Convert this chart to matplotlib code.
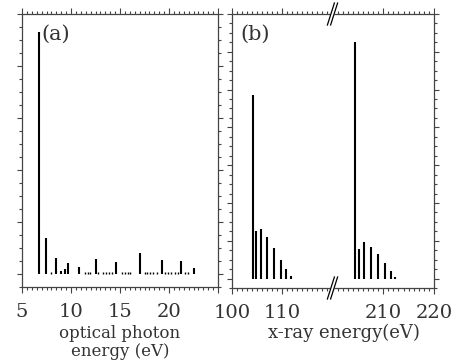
import matplotlib
matplotlib.use("Agg")
import matplotlib.pyplot as plt
from matplotlib.lines import Line2D
from matplotlib.ticker import MultipleLocator, FixedLocator

# (a) optical photon lines
opt_energy = [6.77, 7.42, 8.44, 8.95, 9.39, 9.72, 10.77, 12.5, 14.64, 17.09, 19.32, 21.22, 22.58]
opt_intensity = [4.65, 0.70, 0.30, 0.05, 0.10, 0.22, 0.13, 0.28, 0.24, 0.40, 0.27, 0.25, 0.12]
weak_energy = [7.95, 11.4, 11.7, 11.9, 12.8, 13.3, 13.6, 13.9, 14.2, 15.2, 15.5, 15.8, 16.0,
               17.5, 17.8, 18.1, 18.4, 18.8, 19.6, 19.9, 20.2, 20.6, 20.9, 21.6, 21.9]
weak_intensity = [0.04] * len(weak_energy)

# (b) x-ray lines, two groups
xray_low_energy = [104.1, 104.7, 105.7, 106.9, 108.4, 109.8, 110.8, 111.8]
xray_low_intensity = [4.85, 1.25, 1.30, 1.10, 0.81, 0.50, 0.26, 0.06]
xray_high_energy = [204.4, 205.2, 206.2, 207.5, 209.0, 210.4, 211.5, 212.4]
xray_high_intensity = [6.26, 0.77, 0.97, 0.84, 0.64, 0.40, 0.19, 0.04]

W, H = 461, 361
fig = plt.figure(figsize=(W / 100, H / 100), dpi=100)
plt.rcParams['font.family'] = ['DejaVu Serif']
txt = '#333333'
spine_c = '#444444'


def px_axes(l, r, t, b):
    return fig.add_axes([l / W, 1 - b / H, (r - l) / W, (b - t) / H])


def style(ax, left=True, right=True):
    for s in ax.spines.values():
        s.set_color(spine_c)
        s.set_linewidth(0.9)
    ax.spines['left'].set_visible(left)
    ax.spines['right'].set_visible(right)
    ax.tick_params(axis='both', which='both', direction='out', colors=spine_c,
                   labelcolor=txt, labelsize=14, top=True, bottom=True,
                   left=left, right=right, labelleft=False, pad=7)
    ax.tick_params(axis='x', which='major', length=4.5, width=0.8)
    ax.tick_params(axis='x', which='minor', length=2.5, width=0.8)
    ax.tick_params(axis='y', which='major', length=3.5, width=0.8)
    ax.tick_params(axis='y', which='minor', length=2, width=0.8)


# panel (a)
axa = px_axes(22, 218, 14, 287)
axa.vlines(opt_energy, 0, opt_intensity, color='black', lw=1.5)
axa.vlines(weak_energy, 0, weak_intensity, color='black', lw=1.0)
axa.set_xlim(5, 25)
axa.set_ylim(-0.25, 5)
axa.xaxis.set_major_locator(FixedLocator([5, 10, 15, 20, 25]))
axa.set_xticklabels(['5', '10', '15', '20', ''])
axa.xaxis.set_minor_locator(MultipleLocator(0.5))
axa.yaxis.set_major_locator(MultipleLocator(1))
axa.yaxis.set_minor_locator(MultipleLocator(0.25))
style(axa)
axa.text(0.1, 0.925, '(a)', transform=axa.transAxes, fontsize=15, color=txt,
         va='center', ha='left')

# panel (b), broken axis
brk = 332.5
axb1 = px_axes(232, brk, 14, 288)
axb2 = px_axes(brk, 434, 14, 288)
axb1.vlines(xray_low_energy, 0, xray_low_intensity, color='black', lw=1.5)
axb2.vlines(xray_high_energy, 0, xray_high_intensity, color='black', lw=1.5)
axb1.set_xlim(100, 120)
axb2.set_xlim(200, 220)
for ax in (axb1, axb2):
    ax.set_ylim(-0.25, 7)
    ax.xaxis.set_minor_locator(MultipleLocator(1))
    ax.yaxis.set_major_locator(MultipleLocator(1))
    ax.yaxis.set_minor_locator(MultipleLocator(0.25))
axb1.xaxis.set_major_locator(FixedLocator([100, 110]))
axb2.xaxis.set_major_locator(FixedLocator([210, 220]))
style(axb1, left=True, right=False)
style(axb2, left=False, right=True)
axb1.text(0.08, 0.925, '(b)', transform=axb1.transAxes, fontsize=15, color=txt,
          va='center', ha='left')

# break marks
for yc in (14, 288):
    x0, x1 = brk - 3.5, brk + 3.5
    y0, y1 = yc + 11, yc - 11
    fig.add_artist(Line2D([x0 / W + 0.003, x1 / W - 0.003], [1 - y0 / H, 1 - y1 / H],
                          color='white', lw=3))
    for dx in (-1.6, 1.6):
        fig.add_artist(Line2D([(x0 + dx) / W, (x1 + dx) / W], [1 - y0 / H, 1 - y1 / H],
                              color='black', lw=0.9))

# axis labels
fig.text(120 / W, 1 - 333 / H, 'optical photon', ha='center', va='center',
         fontsize=12, color=txt)
fig.text(120 / W, 1 - 352 / H, 'energy (eV)', ha='center', va='center',
         fontsize=12, color=txt)
fig.text(344 / W, 1 - 333 / H, 'x-ray energy(eV)', ha='center', va='center',
         fontsize=13, color=txt)

fig.savefig('out.png', dpi=100)
